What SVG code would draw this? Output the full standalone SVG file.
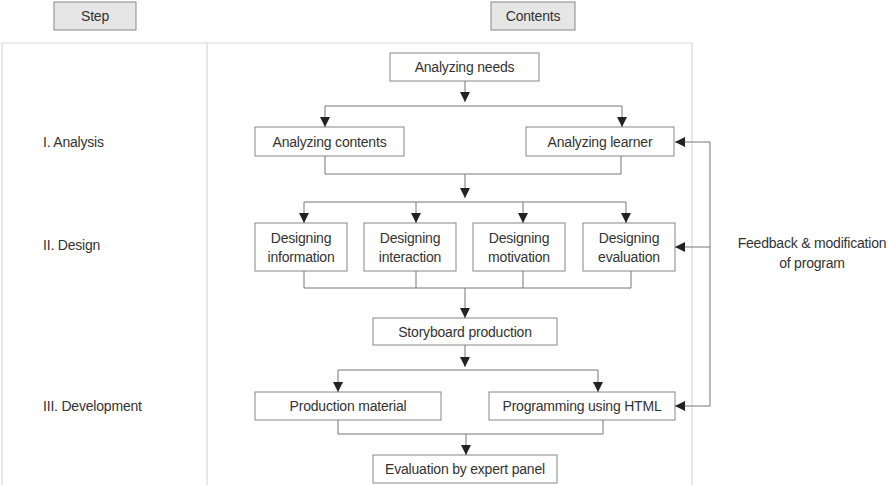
<svg xmlns="http://www.w3.org/2000/svg" width="889" height="485" viewBox="0 0 889 485">
<defs>
<style>
text{font-family:"Liberation Sans",Arial,sans-serif;font-size:14px;fill:#333;letter-spacing:-0.2px}
.c{text-anchor:middle}
.box{fill:#fff;stroke:#888;stroke-width:1}
.hdr{fill:#e6e6e6;stroke:#888;stroke-width:1}
.panel{fill:none;stroke:#d9d9d9;stroke-width:1.2}
.ln{fill:none;stroke:#777;stroke-width:1}
</style>
<marker id="ah" viewBox="0 0 10 10" refX="10" refY="5" markerWidth="10" markerHeight="10" markerUnits="userSpaceOnUse" orient="auto">
<path d="M0,0 L10,5 L0,10 z" fill="#222"/>
</marker>
</defs>
<rect width="889" height="485" fill="#fff"/>
<g id="panel">
<path class="panel" d="M2,485 V43 H692 V485 M207,43 V485"/>
</g>
<g id="hdr-step"><rect class="hdr" x="54" y="2" width="82" height="28"/><text class="c" x="95" y="21">Step</text></g>
<g id="hdr-contents"><rect class="hdr" x="491" y="2" width="84" height="28"/><text class="c" x="533" y="21">Contents</text></g>
<g id="labels">
<text x="43" y="147">I. Analysis</text>
<text x="43" y="250">II. Design</text>
<text x="43" y="411">III. Development</text>
</g>
<g id="n-needs"><rect class="box" x="390" y="53" width="149" height="28"/><text class="c" x="464.5" y="72">Analyzing needs</text></g>
<g id="n-contents"><rect class="box" x="255" y="127" width="149" height="29"/><text class="c" x="329.5" y="146.5">Analyzing contents</text></g>
<g id="n-learner"><rect class="box" x="526" y="127" width="148" height="29"/><text class="c" x="600" y="146.5">Analyzing learner</text></g>
<g id="n-dinfo"><rect class="box" x="255" y="223" width="92" height="48"/><text class="c" x="301" y="243">Designing</text><text class="c" x="301" y="262">information</text></g>
<g id="n-dinter"><rect class="box" x="364" y="223" width="92" height="48"/><text class="c" x="410" y="243">Designing</text><text class="c" x="410" y="262">interaction</text></g>
<g id="n-dmot"><rect class="box" x="473" y="223" width="92" height="48"/><text class="c" x="519" y="243">Designing</text><text class="c" x="519" y="262">motivation</text></g>
<g id="n-deval"><rect class="box" x="583" y="223" width="92" height="48"/><text class="c" x="629" y="243">Designing</text><text class="c" x="629" y="262">evaluation</text></g>
<g id="n-story"><rect class="box" x="373" y="318" width="184" height="27"/><text class="c" x="465" y="336.5">Storyboard production</text></g>
<g id="n-prodmat"><rect class="box" x="255" y="392" width="186" height="28"/><text class="c" x="348" y="411">Production material</text></g>
<g id="n-html"><rect class="box" x="489" y="392" width="186" height="28"/><text class="c" x="582" y="411">Programming using HTML</text></g>
<g id="n-eval"><rect class="box" x="373" y="455" width="184" height="28"/><text class="c" x="465" y="474">Evaluation by expert panel</text></g>
<g id="n-feedback"><text class="c" x="812" y="248">Feedback &amp; modification</text><text class="c" x="812" y="268">of program</text></g>
<g id="connectors">
<path class="ln" d="M465,81 V102" marker-end="url(#ah)"/>
<path class="ln" d="M325,106 H622"/>
<path class="ln" d="M325,106 V127" marker-end="url(#ah)"/>
<path class="ln" d="M622,106 V127" marker-end="url(#ah)"/>
<path class="ln" d="M325,156 V174 H621 V156"/>
<path class="ln" d="M465,174 V198" marker-end="url(#ah)"/>
<path class="ln" d="M304,202 H626"/>
<path class="ln" d="M304,202 V223" marker-end="url(#ah)"/>
<path class="ln" d="M416,202 V223" marker-end="url(#ah)"/>
<path class="ln" d="M523,202 V223" marker-end="url(#ah)"/>
<path class="ln" d="M626,202 V223" marker-end="url(#ah)"/>
<path class="ln" d="M304,271 V288 H631 V271 M416,271 V288 M523,271 V288"/>
<path class="ln" d="M465,288 V318" marker-end="url(#ah)"/>
<path class="ln" d="M465,345 V367" marker-end="url(#ah)"/>
<path class="ln" d="M338,370 H598"/>
<path class="ln" d="M338,370 V392" marker-end="url(#ah)"/>
<path class="ln" d="M598,370 V392" marker-end="url(#ah)"/>
<path class="ln" d="M338,420 V434 H603 V420"/>
<path class="ln" d="M466,434 V455" marker-end="url(#ah)"/>
<path class="ln" d="M710,142 V406"/>
<path class="ln" d="M710,142 H675" marker-end="url(#ah)"/>
<path class="ln" d="M710,247 H675" marker-end="url(#ah)"/>
<path class="ln" d="M710,406 H675" marker-end="url(#ah)"/>
</g>
</svg>
